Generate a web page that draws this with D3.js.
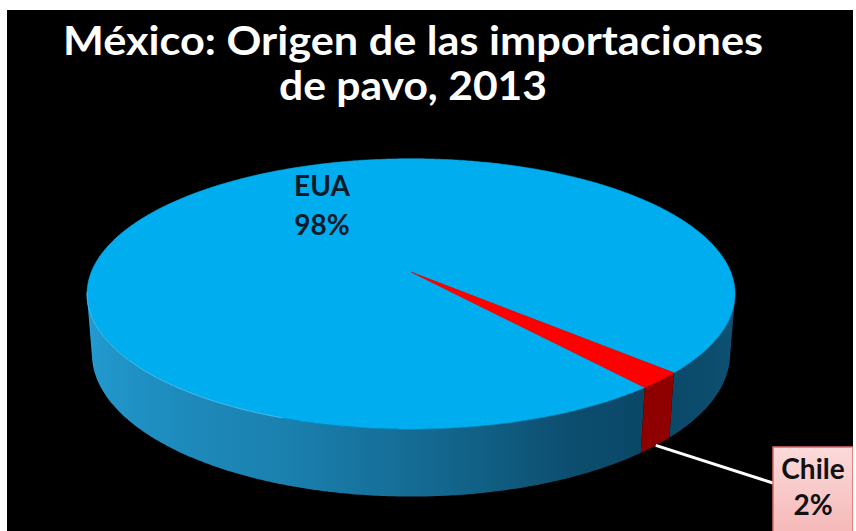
<!DOCTYPE html>
<html>
<head>
<meta charset="utf-8">
<script src="https://cdn.jsdelivr.net/npm/d3@7/dist/d3.min.js"></script>
<style>
  html, body { margin: 0; padding: 0; background: #ffffff; }
  svg { display: block; }
</style>
</head>
<body>
<svg id="chart" width="856" height="531"></svg>
<script>
// Import origins of turkey into Mexico, 2013 (share of total, %)
const categories = ["EUA", "Chile"];
const shares = [98, 2];
const shareLabels = ["98%", "2%"];
const titleLines = ["México: Origen de las importaciones", "de pavo, 2013"];

const topColors = { EUA: "#00AEEF", Chile: "#FF0000" };
const sideDark  = { EUA: "#0A4766", Chile: "#8E0000" };
const sideLight = { EUA: "#239FD6", Chile: "#C80000" };

const W = 856, H = 531;
const svg = d3.select("#chart");
const defs = svg.append("defs");

// frame: white page with a black panel
svg.append("rect").attr("width", W).attr("height", H).attr("fill", "#ffffff");
svg.append("rect").attr("x", 7).attr("y", 10).attr("width", 846).attr("height", 521).attr("fill", "#000000");

// ---- perspective camera for a flat cylinder (radius 1, thickness h) ----
const cam = {
  cx: 411, cy: 272,          // screen position of the pie centre
  F: 1800,                    // focal length in px
  D: 5.63,                    // camera distance (pie radii)
  tilt: 24.3 * Math.PI / 180, // elevation of the camera
  h: 0.206                    // pie thickness (pie radii)
};
const cs = Math.cos(cam.tilt), sn = Math.sin(cam.tilt);

// a: d3.pie angle (clockwise from the far side), y: 0 top face, -h bottom
function project(r, a, y) {
  const X = r * Math.sin(a), Z = -r * Math.cos(a);
  const d = cam.D - y * sn - Z * cs;
  const v = y * cs - Z * sn;
  return [cam.cx + cam.F * X / d, cam.cy - cam.F * v / d];
}

const pie = d3.pie().sort(null)
  .startAngle(140.2 * Math.PI / 180)
  .endAngle(140.2 * Math.PI / 180 + 2 * Math.PI);

const rows = categories.map((c, i) => ({ name: c, value: shares[i], label: shareLabels[i] }));
const arcs = pie.value(d => d.value)(rows);

const deg = Math.PI / 180;
const norm = a => ((a % (2 * Math.PI)) + 2 * Math.PI) % (2 * Math.PI);

// light falls from the left: brightness of the rim by angle
const shade = d3.scaleLinear()
  .domain([101, 140, 155, 180, 200, 259].map(v => v * deg))
  .range([0.14, 0.0, 0.08, 0.42, 0.66, 1.0])
  .clamp(true);

// the rim faces the camera where cos(a) < -1/(D*cos(tilt))
const limit = Math.acos(-1 / (cam.D * cs));   // ~101 deg
const visLo = limit, visHi = 2 * Math.PI - limit;
const line = d3.line();

// ---- outer rim: one shape per slice, shaded with a horizontal gradient ----
const rimG = svg.append("g");
arcs.forEach((arc, k) => {
  // express the slice's angles in the visible window [visLo, visHi]
  let s = norm(arc.startAngle), e = s + (arc.endAngle - arc.startAngle);
  const segs = [];
  for (const off of [-2 * Math.PI, 0, 2 * Math.PI]) {
    const a0 = Math.max(s + off, visLo), a1 = Math.min(e + off, visHi);
    if (a1 > a0) segs.push([a0, a1]);
  }
  const interp = d3.interpolateRgb(sideDark[arc.data.name], sideLight[arc.data.name]);
  segs.forEach(([a0, a1], j) => {
    const n = Math.max(2, Math.ceil((a1 - a0) / (0.5 * deg)));
    const angles = d3.range(n + 1).map(i => a0 + (a1 - a0) * i / n);
    const topPts = angles.map(a => project(1, a, 0));
    const botPts = angles.map(a => project(1, a, -cam.h)).reverse();

    // gradient along screen x, sampled from the rim's angle-based shading
    const xs = topPts.map(p => p[0]);
    const x0 = d3.min(xs), x1 = d3.max(xs);
    const id = `rim-${k}-${j}`;
    const g = defs.append("linearGradient").attr("id", id)
      .attr("gradientUnits", "userSpaceOnUse")
      .attr("x1", x0).attr("y1", 0).attr("x2", x1 === x0 ? x0 + 1 : x1).attr("y2", 0);
    const stopN = Math.min(40, n);
    d3.range(stopN + 1).forEach(i => {
      const a = a0 + (a1 - a0) * i / stopN;
      const px = project(1, a, 0)[0];
      g.append("stop")
        .attr("offset", x1 === x0 ? 0 : (px - x0) / (x1 - x0))
        .attr("stop-color", interp(shade(norm(a))));
    });
    // stops must be increasing in offset: sort them
    const stops = g.selectAll("stop").nodes()
      .sort((p, q) => +p.getAttribute("offset") - +q.getAttribute("offset"));
    stops.forEach(nd => g.node().appendChild(nd));

    rimG.append("path")
      .attr("d", line(topPts.concat(botPts)) + "Z")
      .attr("fill", `url(#${id})`);
  });
});

// ---- top faces ----
const topG = svg.append("g");
arcs.forEach(arc => {
  const n = Math.max(2, Math.ceil((arc.endAngle - arc.startAngle) / (0.5 * deg)));
  const pts = [project(0, 0, 0)];
  for (let i = 0; i <= n; i++) {
    pts.push(project(1, arc.startAngle + (arc.endAngle - arc.startAngle) * i / n, 0));
  }
  topG.append("path")
    .attr("d", line(pts) + "Z")
    .attr("fill", topColors[arc.data.name])
    .attr("stroke", topColors[arc.data.name])
    .attr("stroke-width", 0.6)
    .attr("stroke-linejoin", "round");
});

// soft highlight along the front edge of the top face
const hl = [];
for (let a = 200 * deg; a <= 262 * deg; a += 0.5 * deg) hl.push(project(1, a, 0));
svg.append("path")
  .attr("d", line(hl))
  .attr("fill", "none")
  .attr("stroke", "#7FD4F7")
  .attr("stroke-width", 1)
  .attr("opacity", 0.55);

// ---- title ----
const title = svg.append("g")
  .attr("font-family", "Lato, 'Open Sans', sans-serif")
  .attr("font-weight", 700)
  .attr("font-size", 41)
  .attr("fill", "#ffffff")
  .attr("text-anchor", "middle");
title.append("text").attr("x", 413).attr("y", 55)
  .attr("textLength", 700).attr("lengthAdjust", "spacingAndGlyphs")
  .text(titleLines[0]);
title.append("text").attr("x", 413).attr("y", 100)
  .attr("textLength", 268).attr("lengthAdjust", "spacingAndGlyphs")
  .text(titleLines[1]);

// ---- data labels ----
const labelFont = "Lato, 'Open Sans', sans-serif";
const eua = arcs[0];

// EUA: inside the large slice
const euaLabel = svg.append("text")
  .attr("font-family", labelFont).attr("font-weight", 700).attr("font-size", 28)
  .attr("fill", "#0B1B2B").attr("text-anchor", "middle");
euaLabel.append("tspan").attr("x", 322).attr("y", 196).text(eua.data.name);
euaLabel.append("tspan").attr("x", 322).attr("y", 235).text(eua.data.label);

// Chile: callout box with a leader line from the rim
const chile = arcs[1];
const midA = (chile.startAngle + chile.endAngle) / 2;
const start = project(1, midA, -cam.h);
const box = { x: 773, y: 447, w: 80, h: 90 };

const grad = defs.append("linearGradient").attr("id", "calloutFill")
  .attr("x1", 0).attr("y1", 0).attr("x2", 0).attr("y2", 1);
grad.append("stop").attr("offset", "0%").attr("stop-color", "#FCDADA");
grad.append("stop").attr("offset", "100%").attr("stop-color", "#F5B7B7");

svg.append("line")
  .attr("x1", start[0]).attr("y1", start[1])
  .attr("x2", box.x).attr("y2", box.y + 36)
  .attr("stroke", "#ffffff").attr("stroke-width", 3);

svg.append("rect")
  .attr("x", box.x).attr("y", box.y).attr("width", box.w).attr("height", box.h)
  .attr("fill", "url(#calloutFill)")
  .attr("stroke", "#E06A6A").attr("stroke-width", 1.5);

const chileLabel = svg.append("text")
  .attr("font-family", labelFont).attr("font-weight", 700).attr("font-size", 28)
  .attr("fill", "#111111").attr("text-anchor", "middle");
chileLabel.append("tspan").attr("x", box.x + 40).attr("y", 479).text(chile.data.name);
chileLabel.append("tspan").attr("x", box.x + 40).attr("y", 515).text(chile.data.label);

// keep the white page margin on the right over the callout
svg.append("rect").attr("x", 853).attr("y", 0).attr("width", 3).attr("height", H).attr("fill", "#ffffff");
</script>
</body>
</html>
